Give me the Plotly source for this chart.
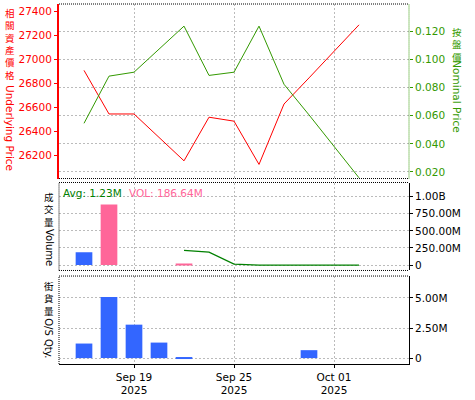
import plotly.graph_objects as go

# ---------------- data ----------------
axis_dates = ["2025-09-16", "2025-09-17", "2025-09-18", "2025-09-19", "2025-09-22",
              "2025-09-23", "2025-09-24", "2025-09-25", "2025-09-26", "2025-09-29",
              "2025-09-30", "2025-10-01", "2025-10-02", "2025-10-03", "2025-10-06"]

price_dates = ["2025-09-17", "2025-09-18", "2025-09-19", "2025-09-22", "2025-09-23",
               "2025-09-24", "2025-09-25", "2025-09-26", "2025-09-29", "2025-09-30",
               "2025-10-01", "2025-10-02"]
underlying_price = [26910, 26546, 26546, 26348, 26155, 26519, 26486, 26125, 26629, 26847, 27067, 27290]
nominal_price = [0.0546, 0.0882, 0.0910, 0.1076, 0.1238, 0.0887, 0.0910, 0.1238, 0.0824, 0.0606, 0.0386, 0.0158]

vol_blue_dates = ["2025-09-17"]
vol_blue = [187e6]
vol_pink_dates = ["2025-09-18", "2025-09-23"]
vol_pink = [884e6, 10e6]

avg_dates = ["2025-09-23", "2025-09-24", "2025-09-25", "2025-09-26", "2025-09-29",
             "2025-09-30", "2025-10-01", "2025-10-02"]
avg_volume = [215e6, 188e6, 14e6, 1e6, 0.5e6, 0.5e6, 0.5e6, 0.5e6]

os_dates = ["2025-09-17", "2025-09-18", "2025-09-19", "2025-09-22", "2025-09-23", "2025-09-30"]
os_qty = [1.21e6, 5.08e6, 2.78e6, 1.29e6, 0.08e6, 0.66e6]

x_tickvals = ["2025-09-19", "2025-09-25", "2025-10-01"]
x_ticktext = ["Sep 19<br>2025", "Sep 25<br>2025", "Oct 01<br>2025"]

left_tickvals = [26200, 26400, 26600, 26800, 27000, 27200, 27400]
right_tickvals = [0.02, 0.04, 0.06, 0.08, 0.10, 0.12]
vol_tickvals = [0, 250e6, 500e6, 750e6, 1e9]
vol_ticktext = ["0", "250.00M", "500.00M", "750.00M", "1.00B"]
os_tickvals = [0, 2.5e6, 5e6]
os_ticktext = ["0", "2.50M", "5.00M"]

left_title_cjk = "相關資產價格"
left_title_en = "Underlying Price"
right_title_cjk = "按盤價"
right_title_en = "Nominal Price"
vol_title_cjk = "成交量"
vol_title_en = "Volume"
os_title_cjk = "街貨量"
os_title_en = "O/S Qty."
avg_label = "Avg: 1.23M"
vol_label = "VOL: 186.64M"

# ---------------- layout helpers ----------------
W, H = 475, 400
ML, MR, MT, MB = 59, 66, 4, 33
PW = W - ML - MR
PH = H - MT - MB


def px(x):
    return (x - ML) / PW


def py(y):
    return (H - MB - y) / PH


RED = "#FF0000"
GREEN = "#339900"
DKGREEN = "#008000"
PINK = "#FF6699"
BLUE = "#3366FF"
GRID = "#BBBBBB"
FONT = "DejaVu Sans"
CJK = "DejaVu Sans, Noto Sans CJK TC"

top_dom = [py(180), py(4)]
mid_dom = [py(272.7), py(184)]
bot_dom = [0, py(278.3)]

fig = go.Figure()

fig.add_trace(go.Scatter(x=price_dates, y=underlying_price, mode="lines",
                         line=dict(color=RED, width=1), xaxis="x2", yaxis="y"))
fig.add_trace(go.Scatter(x=price_dates, y=nominal_price, mode="lines",
                         line=dict(color=GREEN, width=1), xaxis="x2", yaxis="y2"))

fig.add_trace(go.Bar(x=vol_blue_dates, y=vol_blue, marker=dict(color=BLUE, line=dict(width=0)),
                     width=0.667, xaxis="x3", yaxis="y3"))
fig.add_trace(go.Bar(x=vol_pink_dates, y=vol_pink, marker=dict(color=PINK, line=dict(width=0)),
                     width=0.667, xaxis="x3", yaxis="y3"))
fig.add_trace(go.Scatter(x=avg_dates, y=avg_volume, mode="lines",
                         line=dict(color=DKGREEN, width=1.3), xaxis="x3", yaxis="y3"))

fig.add_trace(go.Bar(x=os_dates, y=os_qty, marker=dict(color=BLUE, line=dict(width=0)),
                     width=0.667, xaxis="x", yaxis="y4"))

xcommon = dict(type="category", categoryorder="array", categoryarray=axis_dates,
               range=[0, 14], tickvals=x_tickvals, showgrid=True, gridcolor=GRID,
               griddash="2px,2px", gridwidth=1, zeroline=False, domain=[0, 1])

tickfont = dict(family=FONT, size=10.5, color="black")

fig.update_layout(
    width=W, height=H,
    margin=dict(l=ML, r=MR, t=MT, b=MB),
    paper_bgcolor="white", plot_bgcolor="white",
    showlegend=False, barmode="overlay",
    xaxis=dict(**xcommon, anchor="y4", ticktext=x_ticktext, ticks="outside", ticklen=3,
               tickcolor="black", showline=True, linecolor="black", linewidth=1,
               tickfont=tickfont),
    xaxis2=dict(**xcommon, anchor="y", matches="x", showticklabels=False, ticks=""),
    xaxis3=dict(**xcommon, anchor="y3", matches="x", showticklabels=False, ticks=""),
    yaxis=dict(domain=top_dom, anchor="x2", range=[26007, 27464], tickvals=left_tickvals,
               tickformat="d",
               showgrid=False, zeroline=False, ticks="outside", ticklen=3, tickcolor=RED,
               showline=True, linecolor=RED, linewidth=2,
               tickfont=dict(family=FONT, size=10.5, color=RED)),
    yaxis2=dict(domain=top_dom, anchor="x2", overlaying="y", side="right",
                range=[0.01527, 0.13956], tickvals=right_tickvals, tickformat=".3f",
                showgrid=True, gridcolor=GRID, griddash="2px,2px", zeroline=False,
                ticks="outside", ticklen=3, tickcolor=GREEN, showline=False,
                tickfont=dict(family=FONT, size=10.5, color=GREEN)),
    yaxis3=dict(domain=mid_dom, anchor="x3", side="right", range=[-0.078e9, 1.204e9],
                tickvals=vol_tickvals, ticktext=vol_ticktext, showgrid=True, gridcolor=GRID,
                griddash="2px,2px", zeroline=False, ticks="outside", ticklen=3,
                tickcolor="black", showline=True, linecolor="black", linewidth=1,
                tickfont=tickfont),
    yaxis4=dict(domain=bot_dom, anchor="x", side="right", range=[-0.49e6, 6.82e6],
                tickvals=os_tickvals, ticktext=os_ticktext, showgrid=True, gridcolor=GRID,
                griddash="2px,2px", zeroline=False, ticks="outside", ticklen=3,
                tickcolor="black", showline=True, linecolor="black", linewidth=1,
                tickfont=tickfont),
)

# ---------------- dotted panel borders ----------------
dot = "1px,1px"
shapes = []


def hline(y, color="black"):
    shapes.append(dict(type="line", xref="paper", yref="paper", x0=0, x1=1, y0=y, y1=y,
                       line=dict(color=color, width=1, dash=dot)))


def vline(x, y0, y1, color="black"):
    shapes.append(dict(type="line", xref="paper", yref="paper", x0=x, x1=x, y0=y0, y1=y1,
                       line=dict(color=color, width=1, dash=dot)))


hline(top_dom[1])
hline(top_dom[0])
vline(1, top_dom[0], top_dom[1], GREEN)
hline(mid_dom[1])
hline(mid_dom[0])
vline(0, mid_dom[0], mid_dom[1])
hline(bot_dom[1])
vline(0, bot_dom[0], bot_dom[1])
fig.update_layout(shapes=shapes)

# ---------------- titles (CJK upright stack, Latin rotated) ----------------
ann = []


def cjk_stack(text, xc, yc, color, size=9.5):
    ann.append(dict(text="<br>".join(text), xref="paper", yref="paper", x=px(xc), y=py(yc),
                    xanchor="center", yanchor="middle", showarrow=False, borderpad=0,
                    font=dict(family=CJK, size=size, color=color)))


def rot(text, xc, yc, color, size):
    ann.append(dict(text=text, xref="paper", yref="paper", x=px(xc), y=py(yc),
                    xanchor="center", yanchor="middle", textangle=90, showarrow=False,
                    borderpad=0, font=dict(family=FONT, size=size, color=color)))


cjk_stack(left_title_cjk, 10, 45, RED)
rot(left_title_en, 10, 129, RED, 10.5)
cjk_stack(right_title_cjk, 457, 45, GREEN)
rot(right_title_en, 457, 97, GREEN, 10.5)
cjk_stack(vol_title_cjk, 49, 212, "black")
rot(vol_title_en, 49, 249, "black", 10)
cjk_stack(os_title_cjk, 49, 301, "black")
rot(os_title_en, 49, 341, "black", 10)

ann.append(dict(text=avg_label, xref="paper", yref="paper", x=px(61), y=py(194.5),
                xanchor="left", yanchor="middle", showarrow=False,
                font=dict(family=FONT, size=10.5, color=DKGREEN)))
ann.append(dict(text=vol_label, xref="paper", yref="paper", x=px(127), y=py(194.5),
                xanchor="left", yanchor="middle", showarrow=False,
                font=dict(family=FONT, size=10.5, color=PINK)))
fig.update_layout(annotations=ann)

fig.write_html("out.html", config={"displayModeBar": False},
               post_script="document.body.style.margin='0';")
